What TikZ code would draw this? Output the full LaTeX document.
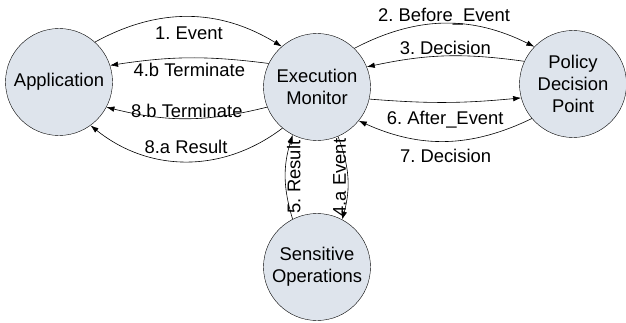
\documentclass[tikz,border=0pt]{standalone}
\usepackage{fontspec}
\setmainfont{Liberation Sans}
\usetikzlibrary{arrows.meta}
\definecolor{nodefill}{RGB}{222,228,236}
\frenchspacing

\begin{document}
\begin{tikzpicture}[
        x=1pt, y=1pt,
        every node/.style={align=center, font=\fontsize{18.4}{22}\selectfont},
        component/.style={circle, draw, fill=nodefill, minimum size=107pt, inner sep=0pt},
        arrow/.style={->, >={Latex[length=8pt,width=5.5pt]}, semithick}
    ]
    \useasboundingbox (0,0) rectangle (626,322);

    % Nodes
    \node (app) [component] at (59,240) {Application};
    \node (monitor) [component] at (317,235) {Execution\\Monitor};
    \node (pdp) [component] at (573,238) {Policy\\Decision\\Point};
    \node (sensitive) [component] at (317,55) {Sensitive\\Operations};

    % Arrows between application and monitor
    \draw [arrow] (app.48) to[bend left=30] node[below=6pt] {1. Event} (monitor.131);
    \draw [arrow] (monitor.154) to[bend right=8] node[below=2pt] {4.b Terminate} (app.18);
    \draw [arrow] (monitor.202) to[bend left=14] node[above=-3pt] {8.b Terminate} (app.332);
    \draw [arrow] (monitor.230) to[bend left=38] node[above=4pt] {8.a Result} (app.306);

    % Arrows between monitor and policy decision point
    \draw [arrow] (monitor.46) to[bend left=27] node[above=-5pt] {2. Before\_Event} (pdp.136);
    \draw [arrow] (pdp.155) to[bend right=10] node[above=-2pt] {3. Decision} (monitor.22);
    \draw [arrow] (monitor.347) to[bend right=5] node[below=5pt] {6. After\_Event} (pdp.195);
    \draw [arrow] (pdp.220) to[bend left=25] node[below=4pt] {7. Decision} (monitor.321);

    % Arrows between monitor and sensitive operations
    \draw [arrow] (sensitive.117) to[bend left=17] node[right=-2pt, rotate=90, anchor=north] {5. Result} (monitor.243);
    \draw [arrow] (monitor.293) to[bend left=18] node[left=-2pt, rotate=90, anchor=south] {4.a Event} (sensitive.62);

\end{tikzpicture}
\end{document}
